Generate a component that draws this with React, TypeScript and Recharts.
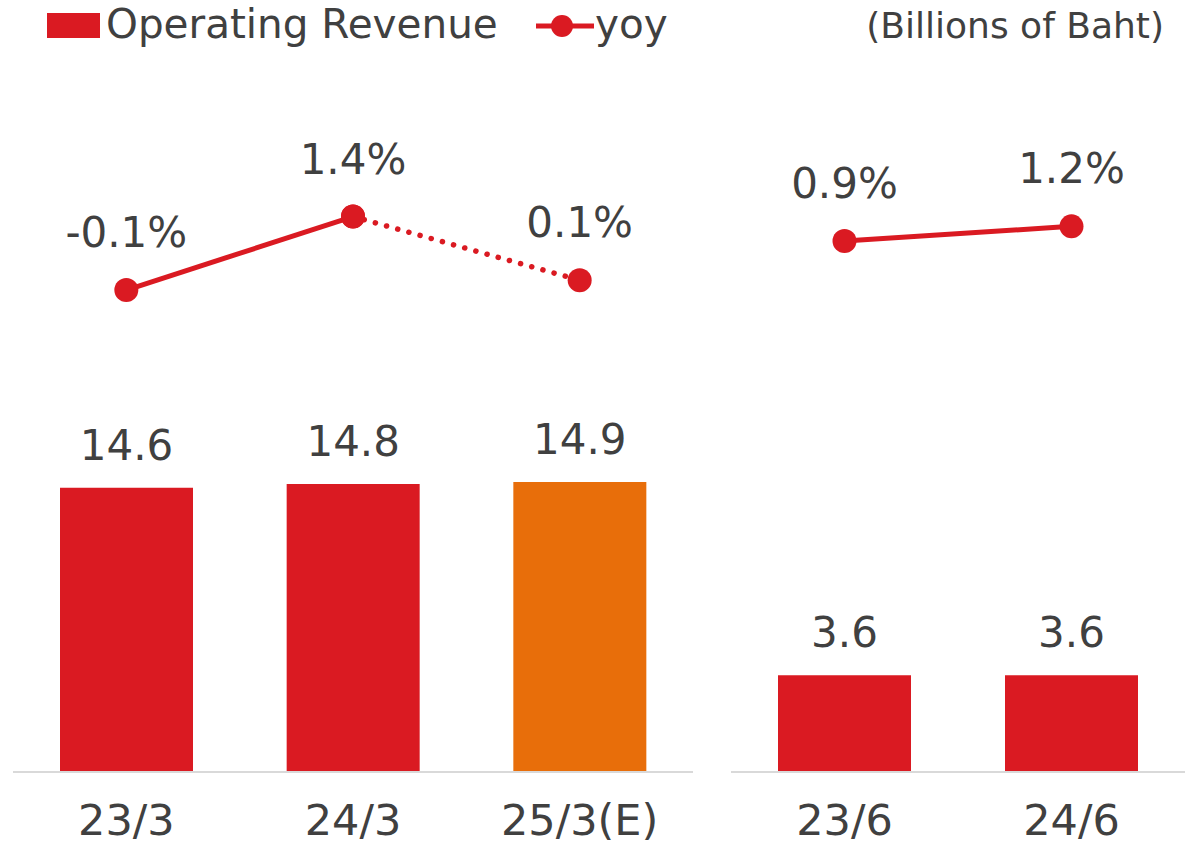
import { ComposedChart, Bar, Line, XAxis, YAxis, Cell, LabelList } from "recharts"

const fyCategories = ["23/3", "24/3", "25/3(E)"]
const fyRevenue = [14.6, 14.8, 14.9]
const fyYoy = [-0.1, 1.4, 0.1]
const fyEstimate = [false, false, true]

const qCategories = ["23/6", "24/6"]
const qRevenue = [3.6, 3.6]
const qYoy = [0.9, 1.2]

const RED = "#DA1A22"
const ORANGE = "#E86E0A"
const TEXT = "#404040"
const FONT = "DejaVu Sans"

const fyData = fyCategories.map((name, i) => ({
  name,
  revenue: fyRevenue[i],
  yoy: fyEstimate[i] ? null : fyYoy[i],
  yoyEst: fyEstimate[i] || fyEstimate[i + 1] ? fyYoy[i] : null,
  estimate: fyEstimate[i],
}))

const qData = qCategories.map((name, i) => ({
  name,
  revenue: qRevenue[i],
  yoy: qYoy[i],
  yoyEst: null,
  estimate: false,
}))

const yoyDomain = [-9.94, 3.78]

function PctLabel(props: any) {
  const { x, y, value } = props
  if (value == null) return null
  return (
    <text x={x} y={y - 43} textAnchor="middle" fill={TEXT} fontSize={42} fontFamily={FONT}>
      {`${Number(value).toFixed(1)}%`}
    </text>
  )
}

function EstLabel(props: any) {
  const { index } = props
  if (!fyEstimate[index]) return null
  return <PctLabel {...props} />
}

function Panel({ data, width, left, barMax, marginLeft, marginRight }: any) {
  return (
    <div style={{ position: "absolute", left, top: 0 }}>
      <ComposedChart
        width={width}
        height={847}
        data={data}
        margin={{ top: 100, right: marginRight, bottom: 0, left: marginLeft }}
      >
        <XAxis
          dataKey="name"
          height={75}
          interval={0}
          tickLine={false}
          tickSize={0}
          tickMargin={32}
          axisLine={{ stroke: "#D9D9D9", strokeWidth: 2 }}
          tick={{ fill: TEXT, fontSize: 43, fontFamily: FONT }}
        />
        <YAxis yAxisId="bar" hide domain={[0, barMax]} />
        <YAxis yAxisId="yoy" hide domain={yoyDomain} />
        <Bar yAxisId="bar" dataKey="revenue" barSize={133} isAnimationActive={false}>
          {data.map((d: any, i: number) => (
            <Cell key={`c-${i}`} fill={d.estimate ? ORANGE : RED} />
          ))}
          <LabelList
            dataKey="revenue"
            position="top"
            offset={28}
            fill={TEXT}
            fontSize={42}
            fontFamily={FONT}
            formatter={(v: any) => Number(v).toFixed(1)}
          />
        </Bar>
        <Line
          yAxisId="yoy"
          dataKey="yoy"
          stroke={RED}
          strokeWidth={5}
          dot={{ r: 12, fill: RED, stroke: "none" }}
          activeDot={false}
          isAnimationActive={false}
        >
          <LabelList dataKey="yoy" content={PctLabel} />
        </Line>
        <Line
          yAxisId="yoy"
          dataKey="yoyEst"
          stroke={RED}
          strokeWidth={5.5}
          strokeLinecap="round"
          strokeDasharray="0.1 11.5"
          dot={{ r: 12, fill: RED, stroke: "none", strokeDasharray: "0" }}
          activeDot={false}
          isAnimationActive={false}
        >
          <LabelList dataKey="yoyEst" content={EstLabel} />
        </Line>
      </ComposedChart>
    </div>
  )
}

export default function App() {
  return (
    <div
      style={{
        position: "absolute",
        left: 0,
        top: 0,
        width: 1191,
        height: 847,
        background: "#fff",
        fontFamily: FONT,
      }}
    >
      <Panel data={fyData} width={700} left={0} barMax={34.53} marginLeft={13} marginRight={7} />
      <Panel data={qData} width={473} left={718} barMax={24.98} marginLeft={13} marginRight={6} />
      <svg width={1191} height={60} style={{ position: "absolute", left: 0, top: 0 }}>
        <rect x={47} y={13} width={53} height={25} fill={RED} />
        <text x={106} y={38} fontSize={40.5} fill={TEXT} fontFamily={FONT}>
          Operating Revenue
        </text>
        <line x1={536} y1={26} x2={594} y2={26} stroke={RED} strokeWidth={5} />
        <circle cx={562} cy={26} r={11} fill={RED} />
        <text x={595} y={38} fontSize={40.5} fill={TEXT} fontFamily={FONT}>
          yoy
        </text>
        <text x={1164} y={38} fontSize={36} fill={TEXT} fontFamily={FONT} textAnchor="end">
          (Billions of Baht)
        </text>
      </svg>
    </div>
  )
}
